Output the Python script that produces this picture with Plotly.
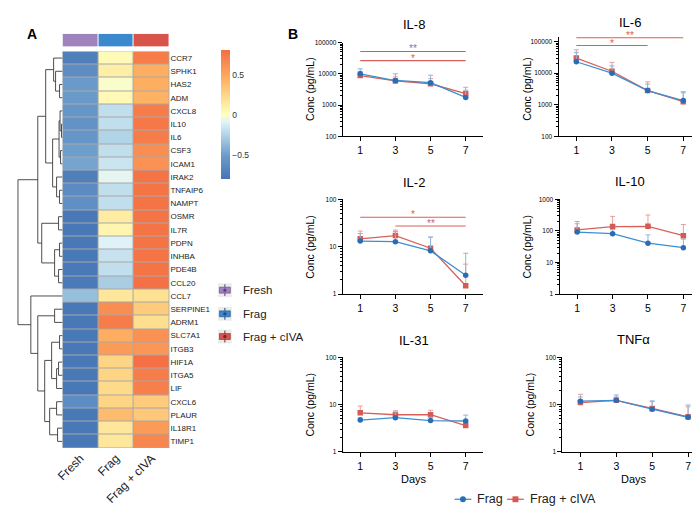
import plotly.graph_objects as go

W, H = 700, 514
FONT = "Liberation Sans, Arial, Helvetica, sans-serif"

# ---------------- Panel A data ----------------
conditions = ["Fresh", "Frag", "Frag + cIVA"]
condition_colors = ["#9f83bd", "#3b88cc", "#d8544a"]
condition_dots = ["#5b3f7d", "#1e4f82", "#7c2622"]

genes = ["CCR7", "SPHK1", "HAS2", "ADM", "CXCL8", "IL10", "IL6", "CSF3", "ICAM1",
         "IRAK2", "TNFAIP6", "NAMPT", "OSMR", "IL7R", "PDPN", "INHBA", "PDE4B",
         "CCL20", "CCL7", "SERPINE1", "ADRM1", "SLC7A1", "ITGB3", "HIF1A", "ITGA5",
         "LIF", "CXCL6", "PLAUR", "IL18R1", "TIMP1"]
hm_fresh = [-0.72, -0.62, -0.52, -0.52, -0.55, -0.58, -0.55, -0.50, -0.47,
            -0.72, -0.63, -0.60, -0.78, -0.78, -0.78, -0.78, -0.77,
            -0.76, -0.35, -0.78, -0.78, -0.78, -0.78, -0.78, -0.78,
            -0.78, -0.62, -0.78, -0.78, -0.78]
hm_frag = [0.03, 0.10, -0.02, 0.04, -0.20, -0.20, -0.25, -0.20, -0.17,
           -0.08, -0.20, -0.20, 0.12, 0.06, -0.10, -0.18, -0.20,
           -0.28, 0.15, 0.62, 0.72, 0.45, 0.55, 0.25, 0.25,
           0.22, 0.25, 0.38, 0.15, 0.15]
hm_civa = [0.72, 0.45, 0.45, 0.43, 0.72, 0.74, 0.72, 0.62, 0.60,
           0.76, 0.76, 0.76, 0.76, 0.76, 0.76, 0.76, 0.76,
           0.78, 0.18, 0.30, 0.20, 0.60, 0.58, 0.78, 0.72,
           0.70, 0.30, 0.32, 0.55, 0.66]
cbar_ticks = [-0.5, 0, 0.5]
cbar_labels = ["\u22120.5", "0", "0.5"]

# dendrogram: [merge height, left, right]
dendro_tree = [4.5,
               [2.5,
                [1.7,
                 [0.9, "CCR7", [0.7, "SPHK1", [0.3, "HAS2", "ADM"]]],
                 [1.0,
                  [0.35, [0.25, "CXCL8", [0.1, "IL10", "IL6"]], [0.2, "CSF3", "ICAM1"]],
                  [0.6, "IRAK2", [0.3, "TNFAIP6", "NAMPT"]]]],
                [2.1,
                 [0.4, "OSMR", "IL7R"],
                 [0.8, [0.3, "PDPN", "INHBA"], [0.4, "PDE4B", "CCL20"]]]],
               [3.2, "CCL7",
                [2.5,
                 [0.8, "SERPINE1", "ADRM1"],
                 [1.8,
                  [1.1, [0.3, "SLC7A1", "ITGB3"], [0.6, [0.4, "HIF1A", "ITGA5"], "LIF"]],
                  [1.3, [0.6, "CXCL6", "PLAUR"], [0.5, "IL18R1", "TIMP1"]]]]]]

# ---------------- Panel B data ----------------
days = [1, 3, 5, 7]
series_names = ["Frag", "Frag + cIVA"]
panel_names = ["IL-8", "IL-6", "IL-2", "IL-10", "IL-31", "TNF\u03b1"]

il8_frag = [10000, 6100, 5200, 1750]
il8_frag_up = [14500, 10000, 9000, 3000]
il8_civa = [8800, 5900, 4800, 2300]
il8_civa_up = [12000, 8000, 7000, 3700]

il6_frag = [23000, 10000, 2800, 1350]
il6_frag_up = [45000, 17000, 4500, 2400]
il6_civa = [30000, 11500, 2800, 1250]
il6_civa_up = [55000, 22000, 5300, 2600]

il2_frag = [13.2, 12.8, 8.2, 2.5]
il2_frag_up = [19, 21, 16, 7.3]
il2_civa = [14.7, 17.2, 9.3, 1.5]
il2_civa_up = [21.5, 22.5, 16, 4.3]

il10_frag = [92, 82, 41, 29.5]
il10_frag_up = [200, 110, 75, 55]
il10_civa = [108, 138, 140, 71]
il10_civa_up = [170, 290, 320, 160]

il31_frag = [4.7, 5.3, 4.6, 4.5]
il31_frag_up = [5.3, 7.0, 5.4, 6.0]
il31_civa = [6.7, 6.1, 6.1, 3.6]
il31_civa_up = [9.3, 7.4, 7.6, 4.2]

tnf_frag = [11.8, 12.3, 8.0, 5.4]
tnf_frag_up = [14.5, 16, 12, 9.8]
tnf_civa = [11.0, 12.3, 8.3, 5.5]
tnf_civa_up = [16.5, 14.5, 11.5, 9.0]

panel_yticks = [[100, 1000, 10000, 100000], [100, 1000, 10000, 100000],
                [1, 10, 100], [1, 10, 100, 1000], [1, 10, 100], [1, 10, 100]]

# significance bars
sig_panel = ["IL-8", "IL-8", "IL-6", "IL-6", "IL-2", "IL-2"]
sig_x0 = [1, 1, 1, 1, 1, 3]
sig_x1 = [7, 7, 5, 7, 7, 7]
sig_y = [52000, 26500, 75000, 133000, 42, 27.5]
sig_label = ["**", "*", "*", "**", "*", "**"]
sig_series = ["Frag", "Frag + cIVA", "Frag + cIVA", "Frag + cIVA", "Frag + cIVA", "Frag + cIVA"]

BLUE = "#3d8fd1"
BLUE_M = "#2a6db5"
BLUE_E = "#8db5dc"
RED = "#d9605a"
RED_M = "#d45b55"
RED_E = "#e59f9b"
series_line = {"Frag": BLUE, "Frag + cIVA": RED}
series_marker = {"Frag": BLUE_M, "Frag + cIVA": RED_M}
series_symbol = {"Frag": "circle", "Frag + cIVA": "rect"}

# ---------------- layout helpers ----------------
def xd(a, b):
    return [a / W, b / W]


def yd(top, bot):
    return [1 - bot / H, 1 - top / H]


def px(x):
    return x / W


def py(y):
    return 1 - y / H


fig = go.Figure()

# ---- heatmap ----
colorscale = [[0.0, "#4575b4"], [0.18, "#6b9bcb"], [0.33, "#abd0e4"], [0.44, "#e0f3f8"],
              [0.5, "#ffffbf"], [0.62, "#fee090"], [0.78, "#fdae61"], [1.0, "#f46d43"]]
z = [[f, g, c] for f, g, c in zip(hm_fresh, hm_frag, hm_civa)]
fig.add_trace(go.Heatmap(
    z=z, x=conditions, y=genes, xaxis="x7", yaxis="y7", zmin=-0.8, zmax=0.8,
    colorscale=colorscale, xgap=1, ygap=1, hoverinfo="skip",
    colorbar=dict(x=px(208), xanchor="left", y=py(39), yanchor="top",
                  len=131 / H, lenmode="fraction", thickness=9, outlinewidth=0,
                  tickvals=cbar_ticks, ticktext=cbar_labels, ticks="",
                  tickfont=dict(size=8.5, color="#333", family=FONT), xpad=0, ypad=0)))

# ---- column annotation bar ----
n = len(conditions)
ann_cs = []
for i, c in enumerate(condition_colors):
    ann_cs.append([i / n, c])
    ann_cs.append([(i + 1) / n, c])
fig.add_trace(go.Heatmap(z=[list(range(n))], x=conditions, y=["cond"], xaxis="x8", yaxis="y8",
                         zmin=-0.5, zmax=n - 0.5, colorscale=ann_cs, showscale=False,
                         xgap=1, hoverinfo="skip"))

# ---- dendrogram ----
gene_index = {g: i for i, g in enumerate(genes)}
dxs, dys = [], []


def walk(node):
    if isinstance(node, str):
        return gene_index[node], 0.0
    h, left, right = node
    yl, hl = walk(left)
    yr, hr = walk(right)
    dxs.extend([hl, h, h, hr, None])
    dys.extend([yl, yl, yr, yr, None])
    return (yl + yr) / 2, h


walk(dendro_tree)
fig.add_trace(go.Scatter(x=dxs, y=dys, mode="lines", xaxis="x9", yaxis="y9",
                         line=dict(color="#3a3a3a", width=0.9), showlegend=False,
                         hoverinfo="skip"))

# ---- line panels ----
panel_data = [
    (il8_frag, il8_frag_up, il8_civa, il8_civa_up),
    (il6_frag, il6_frag_up, il6_civa, il6_civa_up),
    (il2_frag, il2_frag_up, il2_civa, il2_civa_up),
    (il10_frag, il10_frag_up, il10_civa, il10_civa_up),
    (il31_frag, il31_frag_up, il31_civa, il31_civa_up),
    (tnf_frag, tnf_frag_up, tnf_civa, tnf_civa_up),
]
# (x-domain px, y-domain px top/bottom, log y range)
panel_geom = [
    ((331, 473), (31, 126), (2, 5)),
    ((549, 693), (24.9, 126), (2, 5.16)),
    ((331, 473), (190, 286), (0, 2)),
    ((550, 693), (190, 286), (0, 3)),
    ((331, 473), (350, 446), (0, 2)),
    ((553, 698), (350, 446), (0, 2)),
]
title_pos = [(403, 13), (621, 11), (403, 173), (621, 172), (403, 333), (625, 332)]
ylabel_pos = [(298, 78), (517, 78), (298, 238), (517, 238), (298, 398), (520, 398)]
days_pos = [(403, 473), (625, 473)]

layout_axes = {}
annotations = []
for i, name in enumerate(panel_names):
    k = i + 1
    xa = "x" if k == 1 else f"x{k}"
    ya = "y" if k == 1 else f"y{k}"
    frag, frag_up, civa, civa_up = panel_data[i]
    # red first so blue is drawn on top
    fig.add_trace(go.Scatter(
        x=days, y=civa, xaxis=xa, yaxis=ya, mode="lines+markers", name="Frag + cIVA",
        showlegend=False,
        line=dict(color=RED, width=1.3),
        marker=dict(symbol="square", size=5.5, color=RED_M),
        error_y=dict(type="data", symmetric=False,
                     array=[u - m for u, m in zip(civa_up, civa)],
                     arrayminus=[0] * len(civa), color=RED_E, thickness=1, width=2.5)))
    fig.add_trace(go.Scatter(
        x=days, y=frag, xaxis=xa, yaxis=ya, mode="lines+markers", name="Frag",
        showlegend=False,
        line=dict(color=BLUE, width=1.3),
        marker=dict(symbol="circle", size=5.5, color=BLUE_M),
        error_y=dict(type="data", symmetric=False,
                     array=[u - m for u, m in zip(frag_up, frag)],
                     arrayminus=[0] * len(frag), color=BLUE_E, thickness=1, width=2.5)))

    (x0, x1), (t, b), (r0, r1) = panel_geom[i]
    ticks = panel_yticks[i]
    minor_vals = [m * d for d in ticks[:-1] for m in range(2, 10)]
    key_x = "xaxis" if k == 1 else f"xaxis{k}"
    key_y = "yaxis" if k == 1 else f"yaxis{k}"
    layout_axes[key_x] = dict(
        domain=xd(x0, x1), anchor=ya, range=[0, 8], tickvals=days,
        ticks="outside", ticklen=4, tickwidth=1, tickcolor="black",
        showline=True, linecolor="black", linewidth=1, showgrid=False, zeroline=False,
        tickfont=dict(size=10.5, color="black", family=FONT))
    layout_axes[key_y] = dict(
        domain=yd(t, b), anchor=xa, type="log", range=[r0, r1],
        tickvals=ticks, ticktext=[str(v) for v in ticks],
        ticks="outside", ticklen=4, tickwidth=1, tickcolor="black",
        minor=dict(tickvals=minor_vals, ticks="outside", ticklen=2, tickwidth=0.7,
                   tickcolor="black", showgrid=False),
        showline=True, linecolor="black", linewidth=1, showgrid=False, zeroline=False,
        tickfont=dict(size=6.5, color="black", family=FONT))

    tx, ty = title_pos[i]
    annotations.append(dict(x=px(tx), y=py(ty), xref="paper", yref="paper", text=name,
                            showarrow=False, font=dict(size=13, color="black", family=FONT),
                            xanchor="center", yanchor="middle"))
    lx, ly = ylabel_pos[i]
    annotations.append(dict(x=px(lx), y=py(ly), xref="paper", yref="paper", text="Conc (pg/mL)",
                            textangle=-90, showarrow=False,
                            font=dict(size=10.5, color="black", family=FONT),
                            xanchor="center", yanchor="middle"))

for (dxp, dyp) in days_pos:
    annotations.append(dict(x=px(dxp), y=py(dyp), xref="paper", yref="paper", text="Days",
                            showarrow=False, font=dict(size=11, color="black", family=FONT),
                            xanchor="center", yanchor="middle"))

# significance bars
for p, a, bb, yv, lab, s in zip(sig_panel, sig_x0, sig_x1, sig_y, sig_label, sig_series):
    k = panel_names.index(p) + 1
    xa = "x" if k == 1 else f"x{k}"
    ya = "y" if k == 1 else f"y{k}"
    col = series_line[s]
    fig.add_trace(go.Scatter(x=[a, bb], y=[yv, yv], xaxis=xa, yaxis=ya, mode="lines",
                             line=dict(color=col, width=1.1), showlegend=False,
                             hoverinfo="skip"))
    annotations.append(dict(x=(a + bb) / 2, y=__import__("math").log10(yv), xref=xa, yref=ya,
                            text=lab, showarrow=False, xanchor="center", yanchor="bottom",
                            yshift=-5, font=dict(size=10, color=col, family=FONT)))

# ---- heatmap axes ----
layout_axes["xaxis7"] = dict(domain=xd(48, 156), anchor="y7", showgrid=False, zeroline=False,
                             showline=False, ticks="", tickangle=-45,
                             tickfont=dict(size=12, color="#222", family=FONT))
layout_axes["yaxis7"] = dict(domain=yd(40, 442), anchor="x7", side="right", autorange="reversed",
                             showgrid=False, zeroline=False, showline=False, ticks="",
                             tickfont=dict(size=8, color="#222", family=FONT))
layout_axes["xaxis8"] = dict(domain=xd(48, 156), anchor="y8", visible=False)
layout_axes["yaxis8"] = dict(domain=yd(22, 35), anchor="x8", visible=False)
layout_axes["xaxis9"] = dict(domain=xd(0, 48), anchor="y9", range=[4.8, 0], visible=False)
layout_axes["yaxis9"] = dict(domain=yd(40, 442), anchor="x9", range=[29.5, -0.5], visible=False)

shapes = [dict(type="rect", xref="x7 domain", yref="y7 domain", x0=0, x1=1, y0=0, y1=1,
               fillcolor="#a8a8a8", line=dict(width=0), layer="below")]

# heatmap condition legend keys
key_centers = [282, 306, 329]
for cy, lab, col, dot in zip(key_centers, conditions, condition_colors, condition_dots):
    shapes.append(dict(type="rect", xref="paper", yref="paper", x0=px(205), x1=px(219),
                       y0=py(cy + 7), y1=py(cy - 7), fillcolor="#ebebeb", line=dict(width=0)))
    shapes.append(dict(type="line", xref="paper", yref="paper", x0=px(212), x1=px(212),
                       y0=py(cy + 6), y1=py(cy - 6), line=dict(color=dot, width=1)))
    shapes.append(dict(type="rect", xref="paper", yref="paper", x0=px(206.5), x1=px(217.5),
                       y0=py(cy + 3), y1=py(cy - 3), fillcolor=col, line=dict(color=dot, width=0.6)))
    shapes.append(dict(type="circle", xref="paper", yref="paper", x0=px(210.3), x1=px(213.7),
                       y0=py(cy + 1.7), y1=py(cy - 1.7), fillcolor=dot, line=dict(width=0)))
    annotations.append(dict(x=px(228), y=py(cy), xref="paper", yref="paper", text=lab,
                            showarrow=False, xanchor="left", yanchor="middle",
                            font=dict(size=11.5, color="#222", family=FONT)))

# bottom series legend (custom keys)
legend_key_x = [444, 497]
legend_y = 494
for lx0, s in zip(legend_key_x, series_names):
    shapes.append(dict(type="line", xref="paper", yref="paper", x0=px(lx0), x1=px(lx0 + 17),
                       y0=py(legend_y), y1=py(legend_y), line=dict(color=series_line[s], width=1.3)))
    shape_type = "circle" if series_symbol[s] == "circle" else "rect"
    shapes.append(dict(type=shape_type, xref="paper", yref="paper",
                       x0=px(lx0 + 5.5), x1=px(lx0 + 11.5),
                       y0=py(legend_y + 3), y1=py(legend_y - 3),
                       fillcolor=series_marker[s], line=dict(width=0)))
    annotations.append(dict(x=px(lx0 + 21), y=py(legend_y), xref="paper", yref="paper", text=s,
                            showarrow=False, xanchor="left", yanchor="middle",
                            font=dict(size=12.5, color="#222", family=FONT)))

# panel letters
annotations.append(dict(x=px(10), y=py(12), xref="paper", yref="paper", text="<b>A</b>",
                        showarrow=False, font=dict(size=14, color="black", family=FONT)))
annotations.append(dict(x=px(281), y=py(12), xref="paper", yref="paper", text="<b>B</b>",
                        showarrow=False, font=dict(size=14, color="black", family=FONT)))

fig.update_layout(
    width=W, height=H, autosize=False,
    margin=dict(l=0, r=0, t=0, b=0),
    paper_bgcolor="white", plot_bgcolor="white",
    font=dict(family=FONT, color="black"),
    showlegend=False,
    annotations=annotations,
    shapes=shapes,
    **layout_axes,
)

fig.write_html("out.html")
